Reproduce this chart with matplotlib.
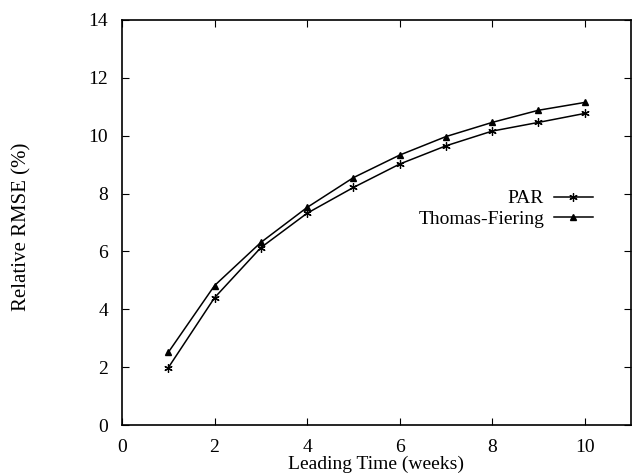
import matplotlib.pyplot as plt

plt.rcParams['font.family'] = ['Liberation Serif', 'DejaVu Serif']

# Leading time (weeks) and relative RMSE (%)
weeks = [1, 2, 3, 4, 5, 6, 7, 8, 9, 10]
par = [1.98, 4.40, 6.13, 7.32, 8.21, 9.02, 9.65, 10.16, 10.46, 10.77]
thomas_fiering = [2.51, 4.82, 6.31, 7.52, 8.55, 9.33, 9.97, 10.46, 10.88, 11.15]

fig = plt.figure(figsize=(6.32, 4.73), dpi=100)
ax = fig.add_axes([122 / 632, 48 / 473, 509 / 632, 405 / 473])

ax.plot(weeks, par, color="black", lw=1.1, marker=(6, 2, 0), ms=6,
        mew=0.9, label="PAR")
ax.plot(weeks, thomas_fiering, color="black", lw=1.1, marker="^", ms=4,
        label="Thomas-Fiering")

ax.set_xlim(0, 11)
ax.set_ylim(0, 14)
ax.set_xticks([0, 2, 4, 6, 8, 10])
ax.set_yticks([0, 2, 4, 6, 8, 10, 12, 14])
ax.tick_params(direction="in", length=5, top=True, right=True,
               labelsize=14, pad=10)
for s in ax.spines.values():
    s.set_linewidth(1.2)

ax.set_xlabel("Leading Time (weeks)", fontsize=14, labelpad=0)
ax.set_ylabel("Relative RMSE (%)", fontsize=15, va="center")
ax.yaxis.set_label_coords(-0.196, 0.49)

ax.legend(loc="upper right", bbox_to_anchor=(0.94, 0.6), frameon=False,
          markerfirst=False, fontsize=14, handlelength=2.0,
          handletextpad=0.5, labelspacing=0.15, borderaxespad=0)

fig.savefig("out.png", dpi=100)
